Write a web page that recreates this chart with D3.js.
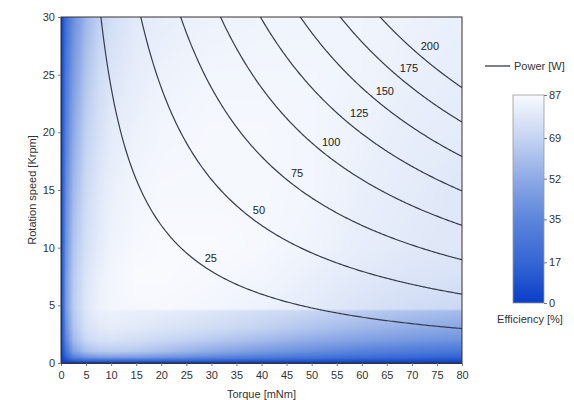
<!DOCTYPE html>
<html><head><meta charset="utf-8">
<script src="https://cdn.jsdelivr.net/npm/d3@7"></script>
<style>
body{margin:0;background:#fff}
svg{display:block;font-family:"Liberation Sans",Arial,sans-serif}
</style>
</head><body>
<svg id="chart" width="574" height="400"></svg>
<script>
// ---------- data ----------
const xTicks = [0,5,10,15,20,25,30,35,40,45,50,55,60,65,70,75,80];
const yTicks = [0,5,10,15,20,25,30];
const cbTicks = [0,17,35,52,69,87];
const powerLevels = [25,50,75,100,125,150,175,200];           // W
const labelTorque = [29.9,39.5,47.1,53.9,59.5,64.6,69.4,73.6];  // label positions (mNm)
const labelSpeed  = [9.1,13.3,16.5,19.2,21.7,23.6,25.6,27.5];   // label positions (krpm)
// efficiency grid (rows = speed, cols = torque)
const gridTorque = [0,1,2.5,5,7.5,10,15,20,30,40,50,60,70,80];
const gridSpeed  = [0,0.5,1,2,3,4.5,4.7,7.5,10,15,20,25,30];
const efficiency = [
  [0, 0, 0, 0, 0, 0, 0, 0, 0, 0, 0, 0, 0, 0],
  [0,15,32,42,46,47,46,43,36,30,25,21,18,15],
  [0,25,48,60,64,65,64,60,52,45,39,33,29,26],
  [0,35,58,71,75,76,74,71,65,59,53,48,44,41],
  [0,40,62,75,79,80,79,77,73,68,62,57,53,50],
  [0,44,65,77,82,83,82,81,78,74,70,66,62,59],
  [0,45,66,78,83,85,86,86,85,83,80,76,73,71],
  [0,45,65,77,82,85,87,87,86,85,82,79,77,76],
  [0,42,63,75,80,84,86,87,87,86,84,81,79,78],
  [0,38,58,72,78,82,85,86,86,86,85,82,80,78],
  [0,33,52,68,75,80,83,85,86,86,85,83,81,80],
  [0,28,46,63,72,77,81,83,85,85,85,84,82,81],
  [0,22,40,57,67,74,79,81,83,84,84,84,83,82]
];
const colorStops = [0,17,35,52,69,87];
const colorValues = ["#0a3ec8","#3566d4","#5c85dc","#8eaae6","#c5d4f2","#f8fafe"];

// ---------- layout ----------
const svg = d3.select("#chart");
const m = {l:61, r:462, t:17, b:363};
const x = d3.scaleLinear().domain([0,80]).range([m.l,m.r]);
const y = d3.scaleLinear().domain([0,30]).range([m.b,m.t]);
const color = d3.scaleLinear().domain(colorStops).range(colorValues).clamp(true);
const textCol = "#333";

// ---------- heatmap ----------
const colIdx = d3.scaleLinear().domain(gridTorque).range(d3.range(gridTorque.length)).clamp(true);
const rowIdx = d3.scaleLinear().domain(gridSpeed).range(d3.range(gridSpeed.length)).clamp(true);
const W = m.r - m.l, H = m.b - m.t;
const cv = document.createElement("canvas");
cv.width = W; cv.height = H;
const ctx = cv.getContext("2d");
const img = ctx.createImageData(W,H);
for (let py=0; py<H; py++){
  const s = y.invert(m.t+py+0.5);
  const fj = rowIdx(s), j0 = Math.min(Math.floor(fj), gridSpeed.length-2), dj = fj-j0;
  for (let px=0; px<W; px++){
    const t = x.invert(m.l+px+0.5);
    const fi = colIdx(t), i0 = Math.min(Math.floor(fi), gridTorque.length-2), di = fi-i0;
    const v = (1-dj)*((1-di)*efficiency[j0][i0] + di*efficiency[j0][i0+1]) +
              dj*((1-di)*efficiency[j0+1][i0] + di*efficiency[j0+1][i0+1]);
    const c = d3.rgb(color(v));
    const k = (py*W+px)*4;
    img.data[k]=c.r; img.data[k+1]=c.g; img.data[k+2]=c.b; img.data[k+3]=255;
  }
}
ctx.putImageData(img,0,0);
svg.append("image").attr("x",m.l).attr("y",m.t).attr("width",W).attr("height",H)
  .attr("preserveAspectRatio","none").attr("href",cv.toDataURL());

// ---------- power curves ----------
svg.append("defs").append("clipPath").attr("id","clip")
  .append("rect").attr("x",m.l).attr("y",m.t).attr("width",W).attr("height",H);
const k = 2*Math.PI/60; // P[W] = T[mNm] * n[krpm] * 2π/60
const line = d3.line().x(d=>x(d[0])).y(d=>y(d[1]));
const gCurves = svg.append("g").attr("clip-path","url(#clip)");
powerLevels.forEach(P=>{
  const t0 = P/(k*30.5);
  const pts = d3.range(0,201).map(i=>{ const t = t0 + (80-t0)*i/200; return [t, P/(k*t)]; });
  gCurves.append("path").attr("d",line(pts)).attr("fill","none")
    .attr("stroke","#363c4a").attr("stroke-width",1.2);
});
svg.append("g").selectAll("text").data(powerLevels).join("text")
  .attr("x",(d,i)=>x(labelTorque[i])).attr("y",(d,i)=>y(labelSpeed[i]))
  .attr("text-anchor","middle").attr("dominant-baseline","central")
  .attr("font-size",11).attr("fill","#222").text(d=>d);

// ---------- frame & axes ----------
svg.append("rect").attr("x",m.l).attr("y",m.t).attr("width",W).attr("height",H)
  .attr("fill","none").attr("stroke","#333").attr("stroke-width",1);

const xa = svg.append("g").attr("transform",`translate(0,${m.b})`)
  .call(d3.axisBottom(x).tickValues(xTicks).tickSize(3).tickPadding(5));
const ya = svg.append("g").attr("transform",`translate(${m.l},0)`)
  .call(d3.axisLeft(y).tickValues(yTicks).tickSize(3).tickPadding(3));
[xa,ya].forEach(a=>{
  a.select(".domain").attr("stroke","#333");
  a.selectAll(".tick line").attr("stroke","#777");
  a.selectAll("text").attr("font-size",11).attr("fill",textCol).attr("font-family","Liberation Sans, Arial, sans-serif");
});
svg.append("text").attr("x",(m.l+m.r)/2).attr("y",398).attr("text-anchor","middle")
  .attr("font-size",11).attr("fill",textCol).text("Torque [mNm]");
svg.append("text").attr("transform",`translate(36,${(m.t+m.b)/2}) rotate(-90)`)
  .attr("text-anchor","middle").attr("font-size",11).attr("fill",textCol).text("Rotation speed [Krpm]");

// ---------- legend ----------
svg.append("line").attr("x1",485).attr("x2",510).attr("y1",66).attr("y2",66)
  .attr("stroke","#363c4a").attr("stroke-width",1.3);
svg.append("text").attr("x",514).attr("y",66).attr("dominant-baseline","central")
  .attr("font-size",11).attr("fill",textCol).text("Power [W]");

// ---------- colorbar ----------
const cb = {x:513, w:31, t:95, b:303};
const cy = d3.scaleLinear().domain([0,87]).range([cb.b,cb.t]);
const grad = svg.select("defs").append("linearGradient").attr("id","cbgrad")
  .attr("x1",0).attr("x2",0).attr("y1",1).attr("y2",0);
grad.selectAll("stop").data(colorStops).join("stop")
  .attr("offset",d=>d/87).attr("stop-color",(d,i)=>colorValues[i]);
svg.append("rect").attr("x",cb.x).attr("y",cb.t).attr("width",cb.w).attr("height",cb.b-cb.t)
  .attr("fill","url(#cbgrad)").attr("stroke","#999").attr("stroke-width",0.8);
const cba = svg.append("g").attr("transform",`translate(${cb.x+cb.w},0)`)
  .call(d3.axisRight(cy).tickValues(cbTicks).tickSize(3).tickPadding(2));
cba.select(".domain").remove();
cba.selectAll(".tick line").attr("stroke","#777");
cba.selectAll("text").attr("font-size",11).attr("fill",textCol).attr("font-family","Liberation Sans, Arial, sans-serif");
svg.append("text").attr("x",530).attr("y",319).attr("text-anchor","middle").attr("dominant-baseline","central")
  .attr("font-size",11).attr("fill",textCol).text("Efficiency [%]");
</script>
</body></html>
